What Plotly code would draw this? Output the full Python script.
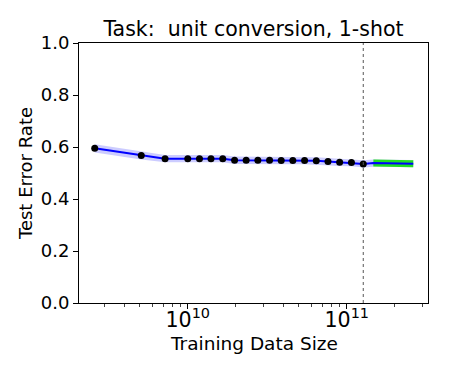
import plotly.graph_objects as go

# observed points (training data size, test error rate)
data_size = [2.6e9, 5.1e9, 7.2e9, 1.0e10, 1.185e10, 1.40e10, 1.66e10, 1.97e10,
             2.33e10, 2.76e10, 3.27e10, 3.87e10, 4.58e10, 5.43e10, 6.43e10,
             7.62e10, 9.02e10, 1.07e11, 1.27e11]
error_rate = [0.595, 0.567, 0.555, 0.555, 0.555, 0.555, 0.555, 0.549,
              0.549, 0.549, 0.549, 0.548, 0.548, 0.548, 0.547, 0.544,
              0.541, 0.540, 0.535]
band_half = [0.016, 0.015, 0.014, 0.014, 0.014, 0.014, 0.014, 0.014,
             0.014, 0.014, 0.014, 0.014, 0.014, 0.014, 0.014, 0.014,
             0.014, 0.014, 0.014]

# extrapolated tail
extra_size = [1.27e11, 1.47e11, 2.0e11, 2.62e11]
extra_rate = [0.535, 0.538, 0.537, 0.536]
extra_half = [0.014, 0.014, 0.014, 0.014]

green_size = [1.47e11, 2.62e11]
green_rate = [0.538, 0.536]

cutoff = 1.27e11

band_x = data_size + extra_size[1:]
band_y = error_rate + extra_rate[1:]
band_h = band_half + extra_half[1:]
upper = [y + h for y, h in zip(band_y, band_h)]
lower = [y - h for y, h in zip(band_y, band_h)]

fig = go.Figure()
fig.add_trace(go.Scatter(x=band_x + band_x[::-1], y=upper + lower[::-1],
                         fill='toself', fillcolor='rgba(0,0,255,0.2)',
                         line=dict(width=0), mode='lines', hoverinfo='skip'))
fig.add_trace(go.Scatter(x=green_size, y=green_rate, mode='lines',
                         line=dict(color='#22dd22', width=7)))
fig.add_trace(go.Scatter(x=band_x, y=band_y, mode='lines',
                         line=dict(color='blue', width=2)))
fig.add_trace(go.Scatter(x=data_size, y=error_rate, mode='markers',
                         marker=dict(color='black', size=7)))

fig.add_vline(x=cutoff, line=dict(color='#555555', width=1, dash='dot'))

# x label as annotation for finer placement
fig.add_annotation(text='Training Data Size', xref='paper', yref='paper',
                   x=0.5, y=0, xanchor='center', yanchor='top', yshift=-28,
                   showarrow=False, font=dict(size=18.5))

# page body has an 8px margin, so the figure is shrunk to fit the window
fig.update_layout(
    width=441, height=366,
    margin=dict(l=71, r=21, t=35, b=71),
    plot_bgcolor='white', paper_bgcolor='white',
    showlegend=False,
    font=dict(family='DejaVu Sans', size=18, color='black'),
    title=dict(text='Task:  unit conversion, 1-shot', x=0.5, xanchor='center',
               xref='paper', y=1, yref='paper', yanchor='bottom',
               pad=dict(b=7), font=dict(size=20.5)),
)
fig.update_xaxes(type='log', range=[9.316, 11.511], dtick=1,
                 exponentformat='power', showgrid=False, automargin=False,
                 showline=True, linecolor='black', linewidth=1, mirror=True,
                 ticks='outside', ticklen=5, tickcolor='black',
                 ticklabelstandoff=-6, tickfont=dict(size=16.5),
                 minor=dict(ticks='outside', ticklen=2.5, tickcolor='#444444'))
fig.update_yaxes(range=[0, 1], dtick=0.2, tickformat='.1f', showgrid=False,
                 showline=True, linecolor='black', linewidth=1, mirror=True,
                 ticks='outside', ticklen=5, tickcolor='black',
                 zeroline=False, automargin=False,
                 title=dict(text='Test Error Rate', standoff=3,
                            font=dict(size=18)))

fig.write_html("out.html")
